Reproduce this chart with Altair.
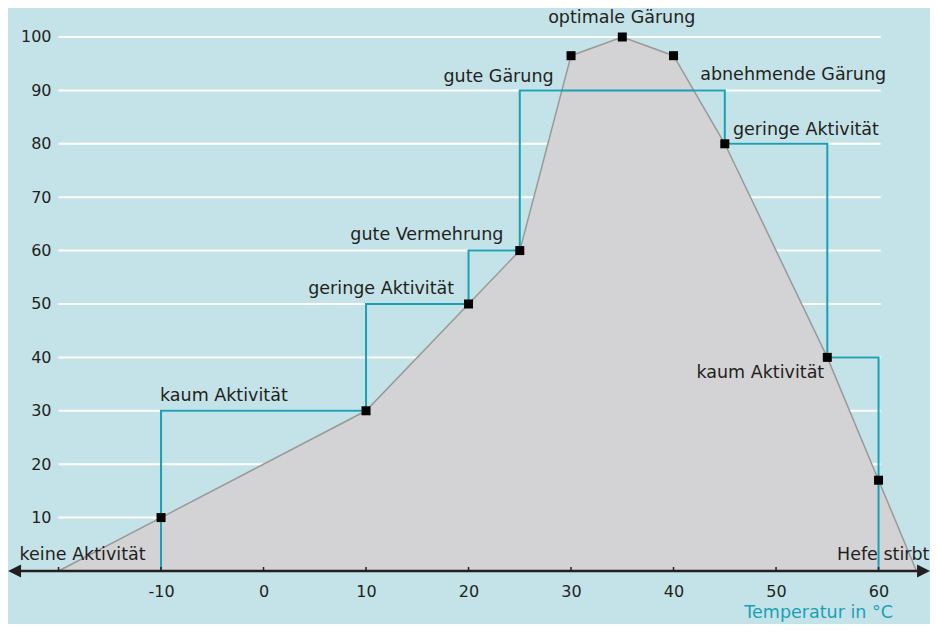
import altair as alt
import pandas as pd

# ---- data ----
curve_x = [-20, -10, 10, 20, 25, 30, 35, 40, 45, 55, 60, 63.7]
curve_y = [0, 10, 30, 50, 60, 96.5, 100, 96.5, 80, 40, 17, 0]

marker_x = [-10, 10, 20, 25, 30, 35, 40, 45, 55, 60]
marker_y = [10, 30, 50, 60, 96.5, 100, 96.5, 80, 40, 17]

step_x = [-10, -10, 10, 10, 20, 20, 25, 25, 45, 45, 55, 55, 60, 60]
step_y = [0, 30, 30, 50, 50, 60, 60, 90, 90, 80, 80, 40, 40, 0]

grid_values = [10, 20, 30, 40, 50, 60, 70, 80, 90, 100]
x_tick_labels = [-10, 0, 10, 20, 30, 40, 50, 60]
x_tick_marks = [-20, -10, 0, 10, 20, 30, 40, 50, 60]

left_text = ["keine Aktivität", "kaum Aktivität", "abnehmende Gärung", "geringe Aktivität", "Hefe stirbt"]
left_x = [-23.8, -10.1, 42.6, 45.8, 55.95]
left_y = [2.1, 31.8, 91.9, 81.6, 2.1]

right_text = ["geringe Aktivität", "gute Vermehrung", "gute Gärung", "kaum Aktivität"]
right_x = [18.6, 23.4, 28.3, 54.7]
right_y = [51.9, 61.9, 91.6, 36.1]

center_text = ["optimale Gärung"]
center_x = [34.95]
center_y = [102.6]

axis_title = ["Temperatur in °C"]
axis_title_x = [61.4]
axis_title_y = [-8.8]

# ---- styling ----
BG = "#c4e3e8"
TEAL = "#1aa0b4"
TXT = "#231f20"
FONT = "DejaVu Sans"

W, H = 922, 616
xscale = alt.Scale(domain=[-24.93, 65.02], nice=False, zero=False)
yscale = alt.Scale(domain=[-9.93, 105.43], nice=False, zero=False)

xaxis = alt.Axis(values=x_tick_labels, grid=False, domain=False, ticks=False, tickSize=0,
                 offset=-53, labelPadding=25, labelBaseline="alphabetic",
                 labelFont=FONT, labelFontSize=16, labelColor=TXT, title=None,
                 labelFlush=False, labelOverlap=False, labelExpr="'' + datum.value")
yaxis = alt.Axis(values=grid_values, grid=False, domain=False, ticks=False, tickSize=0,
                 offset=-51, labelPadding=8, labelFont=FONT, labelFontSize=16,
                 labelColor=TXT, title=None, labelOverlap=False)


def X(f):
    return alt.X(f, type="quantitative", scale=xscale, axis=xaxis)


def Y(f):
    return alt.Y(f, type="quantitative", scale=yscale, axis=yaxis)


grid_df = pd.DataFrame({"y": grid_values, "x1": -20, "x2": 60.2})
curve_df = pd.DataFrame({"x": curve_x, "y": curve_y, "base": 0})
marker_df = pd.DataFrame({"x": marker_x, "y": marker_y})
step_df = pd.DataFrame({"x": step_x, "y": step_y, "o": list(range(len(step_x)))})
tick_df = pd.DataFrame({"x": x_tick_marks, "y1": 0, "y2": 0.75})
axisline_df = pd.DataFrame({"x1": [-23.8], "x2": [63.8], "y": [0]})
arrow_l = pd.DataFrame({"x": [-24.29], "y": [0]})
arrow_r = pd.DataFrame({"x": [64.39], "y": [0]})

grid = alt.Chart(grid_df).mark_rule(color="white", strokeWidth=2).encode(
    x=X("x1"), x2="x2", y=Y("y"))

area = alt.Chart(curve_df).mark_area(color="#d3d3d5", opacity=1).encode(
    x=X("x"), y=Y("y"), y2="base")

outline = alt.Chart(curve_df).mark_line(color="#999999", strokeWidth=1.5).encode(
    x=X("x"), y=Y("y"))

steps = alt.Chart(step_df).mark_line(color=TEAL, strokeWidth=2, interpolate="linear").encode(
    x=X("x"), y=Y("y"), order="o")

ticks = alt.Chart(tick_df).mark_rule(color=TXT, strokeWidth=1.5).encode(
    x=X("x"), y=Y("y1"), y2="y2")

axisline = alt.Chart(axisline_df).mark_rule(color=TXT, strokeWidth=2.5).encode(
    x=X("x1"), x2="x2", y=Y("y"))

arrowL = alt.Chart(arrow_l).mark_point(shape="M -1 0 L 1 -1 L 1 1 Z", filled=True, size=169,
                                        color=TXT, opacity=1).encode(x=X("x"), y=Y("y"))
arrowR = alt.Chart(arrow_r).mark_point(shape="M 1 0 L -1 -1 L -1 1 Z", filled=True, size=169,
                                        color=TXT, opacity=1).encode(x=X("x"), y=Y("y"))

markers = alt.Chart(marker_df).mark_square(color="black", size=81, opacity=1).encode(
    x=X("x"), y=Y("y"))


def text_layer(texts, xs, ys, align, color=TXT):
    df = pd.DataFrame({"t": texts, "x": xs, "y": ys})
    return alt.Chart(df).mark_text(align=align, baseline="alphabetic", font=FONT,
                                   fontSize=17.5, color=color).encode(
        x=X("x"), y=Y("y"), text="t")


labels_l = text_layer(left_text, left_x, left_y, "left")
labels_r = text_layer(right_text, right_x, right_y, "right")
labels_c = text_layer(center_text, center_x, center_y, "center")
title_t = text_layer(axis_title, axis_title_x, axis_title_y, "right", TEAL)

chart = alt.layer(
    grid, area, outline, steps, ticks, axisline, arrowL, arrowR, markers,
    labels_l, labels_r, labels_c, title_t
).properties(
    width=W, height=H, padding=0, autosize=alt.AutoSizeParams(type="none"),
    background=BG
).configure_view(stroke=None)

chart.save("out.html", embed_options={"renderer": "svg", "actions": False})
